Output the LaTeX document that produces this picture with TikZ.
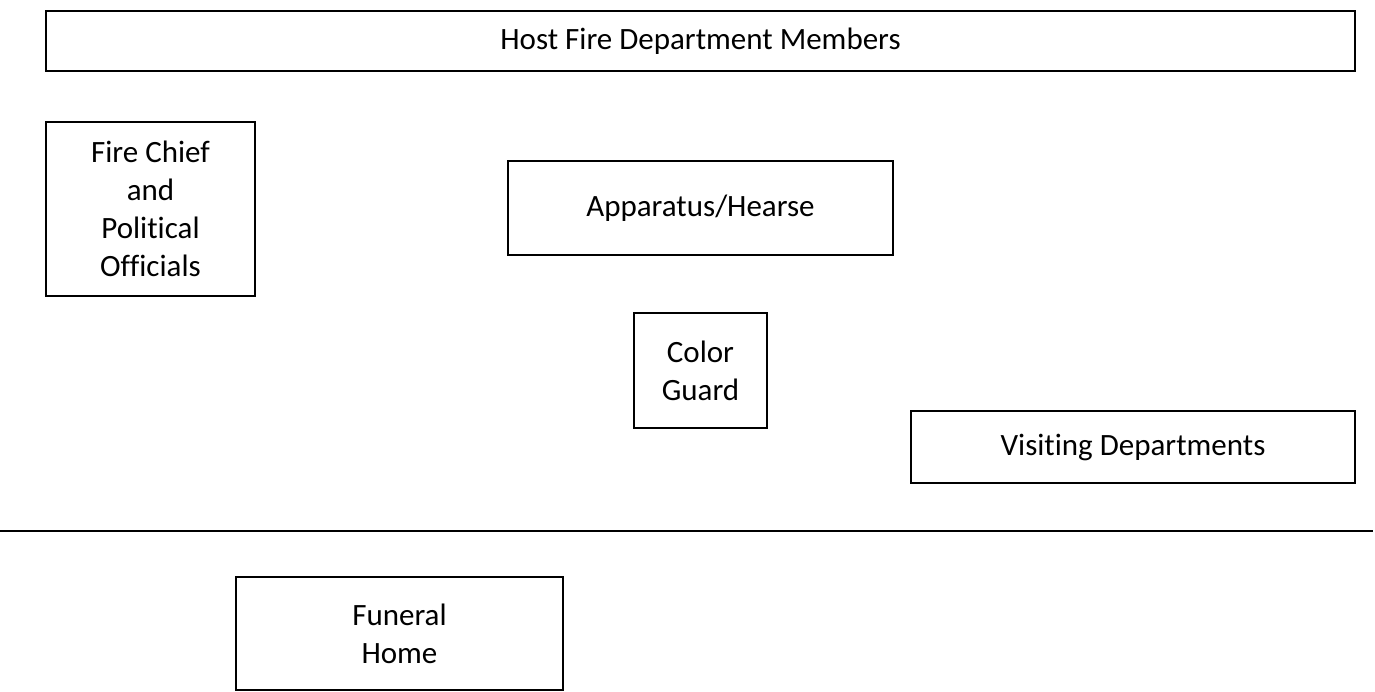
\documentclass[tikz,border=0pt]{standalone}
\usepackage{fontspec}
\setmainfont{Carlito}[Ligatures=NoCommon]
\tikzset{
  box/.style={draw, line width=1.5pt, align=center, inner sep=0pt,
    font=\fontsize{31}{38}\selectfont},
}
\begin{document}
\begin{tikzpicture}[x=1pt, y=-1pt]
    \useasboundingbox (0,0) rectangle (1375,692);
    % top row
    \node [box, minimum width=1309pt, minimum height=60pt] (host) at (700.5,41) {Host Fire Department Members};
    \node [box, minimum width=209pt, minimum height=174pt] (chief) at (150.5,209) {Fire Chief\\and\\Political\\Officials};
    \node [box, minimum width=385pt, minimum height=94pt] (hearse) at (700.5,208) {Apparatus/Hearse};
    \node [box, minimum width=133pt, minimum height=115pt] (guard) at (700.5,370.5) {Color\\Guard};
    \node [box, minimum width=444pt, minimum height=72pt] (visit) at (1133,447) {Visiting Departments};
    % street line
    \coordinate (curbL) at (0,531);
    \coordinate (curbR) at (1373,531);
    \draw [line width=2.5pt] (curbL) -- (curbR);
    \node [box, minimum width=327pt, minimum height=113pt] (home) at (399.5,633.5) {Funeral\\Home};
\end{tikzpicture}
\end{document}
